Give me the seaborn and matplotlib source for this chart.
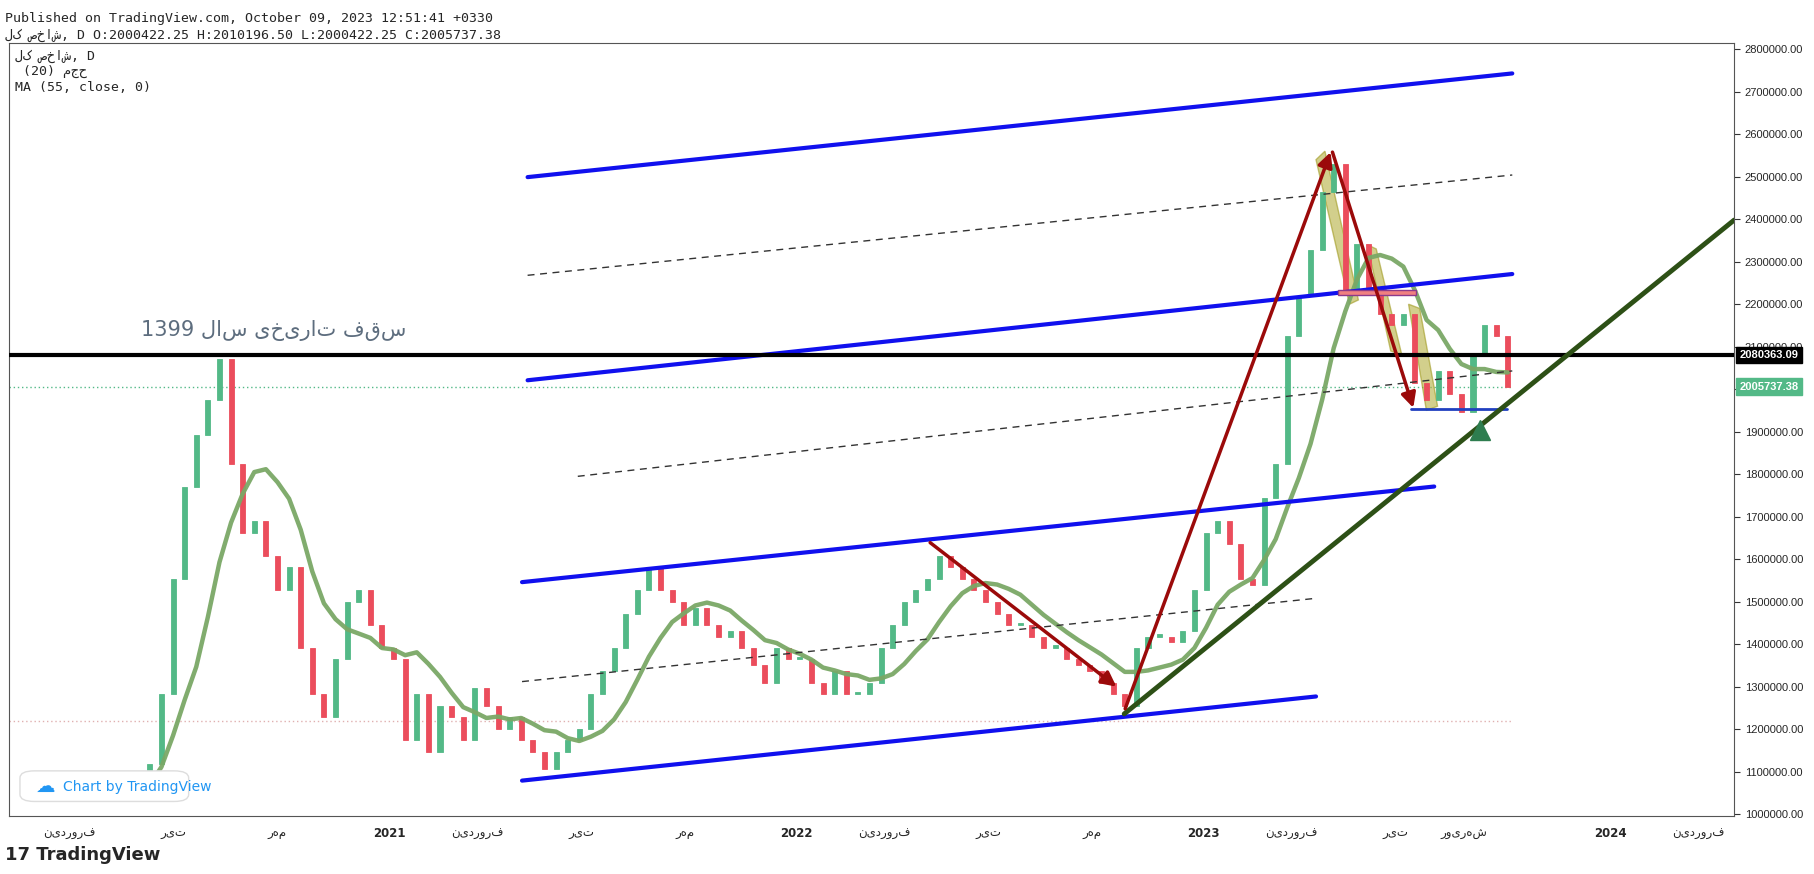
import seaborn as sns
import matplotlib.pyplot as plt
import matplotlib.dates as mdates
import pandas as pd
from matplotlib.patches import Polygon, FancyBboxPatch

# 1- data (closes in thousand points, ~10 day steps)
start_date = "2020-04-30"
end_date = "2023-10-01"
closes = [1038, 1038, 1079, 1119, 1282, 1554, 1771, 1893, 1975, 2070,
          1825, 1662, 1690, 1608, 1527, 1581, 1391, 1282, 1228, 1364,
          1500, 1527, 1445, 1391, 1364, 1174, 1282, 1147, 1255, 1228,
          1174, 1296, 1255, 1201, 1228, 1174, 1147, 1106, 1147, 1174,
          1201, 1282, 1337, 1391, 1472, 1527, 1581, 1527, 1500, 1445,
          1486, 1445, 1418, 1432, 1391, 1350, 1309, 1391, 1364, 1364,
          1309, 1282, 1337, 1282, 1282, 1309, 1391, 1445, 1500, 1527,
          1554, 1608, 1581, 1554, 1527, 1500, 1472, 1445, 1445, 1418,
          1391, 1391, 1364, 1350, 1337, 1309, 1282, 1255, 1391, 1418,
          1418, 1405, 1432, 1527, 1662, 1690, 1635, 1554, 1540, 1744,
          1825, 2124, 2219, 2328, 2463, 2531, 2233, 2341, 2233, 2178,
          2151, 2178, 2015, 1975, 2042, 1988, 1947, 2083, 2151, 2124,
          2005.737]
hist_high = 2080363.09
last_close = 2005737.38

# drawings (date, price)
blue_lines = [(("2021-05-05", 2499e3), ("2023-10-05", 2743e3)),
              (("2021-05-05", 2021e3), ("2023-10-05", 2271e3)),
              (("2021-04-30", 1546e3), ("2023-07-27", 1771e3)),
              (("2021-04-30", 1079e3), ("2023-04-12", 1277e3))]
dashed_lines = [(("2021-05-05", 2268e3), ("2023-10-05", 2504e3)),
                (("2021-06-19", 1795e3), ("2023-10-05", 2043e3)),
                (("2021-04-30", 1312e3), ("2023-04-12", 1508e3))]
green_trend = (("2022-10-22", 1236e3), ("2024-04-21", 2398e3))
red_arrows = [(("2022-10-22", 1242e3), ("2023-04-26", 2564e3)),
              (("2023-04-26", 2564e3), ("2023-07-09", 1950e3)),
              (("2022-04-29", 1643e3), ("2022-10-17", 1296e3))]
x_ticks = ["2020-03-20", "2020-06-21", "2020-09-22", "2021-01-01", "2021-03-21",
           "2021-06-22", "2021-09-23", "2022-01-01", "2022-03-21", "2022-06-22",
           "2022-09-23", "2023-01-01", "2023-03-21", "2023-06-22", "2023-08-23",
           "2024-01-01", "2024-03-20"]
x_labels = ["فروردین", "تیر", "مهر", "2021", "فروردین", "تیر", "مهر", "2022",
            "فروردین", "تیر", "مهر", "2023", "فروردین", "تیر", "شهریور", "2024", "فروردین"]
note_text = "سقف تاریخی سال 1399"


def visual(s):
    # matplotlib draws left to right without bidi, so order the words by hand
    return " ".join(w if w.isdigit() else w[::-1] for w in reversed(s.split()))


df = pd.DataFrame({"date": pd.date_range(start_date, end_date, periods=len(closes)),
                   "close": [c * 1000 for c in closes]})
df["open"] = df["close"].shift(1).fillna(df["close"])
df["ma"] = df.set_index("date")["close"].rolling("77D").mean().values
df["up"] = df["close"] >= df["open"]

# 2- figure
sns.set_style("white")
plt.rcParams['font.family'] = ['DejaVu Sans']
fig = plt.figure(figsize=(18.14, 8.74), dpi=100)
ax = fig.add_axes([0.005, 0.066, 0.951, 0.885])

up_c, dn_c = "#53b987", "#eb4d5c"
for _, r in df.iterrows():
    c = up_c if r["up"] else dn_c
    h = r["close"] - r["open"]
    ax.bar(r["date"], h if abs(h) > 3000 else 6000, bottom=r["open"], width=4.5,
           color=c, edgecolor=c, linewidth=0.6, zorder=3)

sns.lineplot(x="date", y="ma", data=df, ax=ax, color="#7aa866", lw=3.2, alpha=0.95, zorder=4)

def seg(p):
    return [pd.Timestamp(p[0][0]), pd.Timestamp(p[1][0])], [p[0][1], p[1][1]]

for p in blue_lines:
    xs, ys = seg(p)
    ax.plot(xs, ys, color="#1010ee", lw=3, zorder=5)
for p in dashed_lines:
    xs, ys = seg(p)
    ax.plot(xs, ys, color="#333333", lw=1, ls=(0, (5, 4)), zorder=5)
xs, ys = seg(green_trend)
ax.plot(xs, ys, color="#2d5016", lw=3.5, zorder=6)
for p in red_arrows:
    ax.annotate("", xy=(pd.Timestamp(p[1][0]), p[1][1]), xytext=(pd.Timestamp(p[0][0]), p[0][1]),
                arrowprops=dict(arrowstyle="-|>", color="#9b0a0a", lw=2.5, mutation_scale=22), zorder=6)

# olive highlight shapes
for pts in [[("2023-04-12", 2540e3), ("2023-04-20", 2560e3), ("2023-05-20", 2210e3), ("2023-05-12", 2200e3)],
            [("2023-05-28", 2340e3), ("2023-06-05", 2330e3), ("2023-06-28", 2080e3), ("2023-06-18", 2090e3)],
            [("2023-07-04", 2200e3), ("2023-07-14", 2190e3), ("2023-07-30", 1960e3), ("2023-07-20", 1950e3)]]:
    ax.add_patch(Polygon([(mdates.date2num(pd.Timestamp(d)), v) for d, v in pts], closed=True,
                         fc="#b5b040", ec="#a09a20", alpha=0.6, zorder=2))
ax.add_patch(plt.Rectangle((mdates.date2num(pd.Timestamp("2023-05-02")), 2222e3), 70, 12e3,
                           fc="#f08080", ec="#8b3a8b", lw=1, zorder=5))
ax.plot([pd.Timestamp("2023-07-06"), pd.Timestamp("2023-09-30")], [1953e3, 1953e3], color="#2040c0", lw=2, zorder=5)
ax.plot([pd.Timestamp("2023-09-06")], [1905e3], marker="^", ms=14, color="#2e7d4f", zorder=7)

ax.axhline(hist_high, color="black", lw=3, zorder=5)
ax.plot([pd.Timestamp("2020-01-26"), pd.Timestamp("2023-10-05")], [last_close] * 2,
        color="#53b987", lw=1, ls=(0, (1, 2)), zorder=1)
ax.plot([pd.Timestamp("2020-01-26"), pd.Timestamp("2023-10-05")], [1220e3] * 2,
        color="#e0b0b0", lw=1, ls=(0, (1, 2)), zorder=1)

ax.text(pd.Timestamp("2020-05-23"), 2125e3, visual(note_text), fontsize=15, color="#5d6d7e")

# axes
ax.set_xlim(pd.Timestamp("2020-01-26"), pd.Timestamp("2024-04-21"))
ax.set_ylim(995e3, 2815e3)
ax.set_xticks([pd.Timestamp(t) for t in x_ticks])
ax.set_xticklabels([visual(l) for l in x_labels], fontsize=8.5)
for t in ax.get_xticklabels():
    if t.get_text().isdigit():
        t.set_fontweight("bold")
ax.yaxis.tick_right()
ax.set_yticks(range(1000000, 2800001, 100000))
ax.set_yticklabels([f"{v:.2f}" for v in range(1000000, 2800001, 100000)], fontsize=8,
                   family=["Liberation Sans Narrow", "Liberation Sans", "DejaVu Sans"])
ax.tick_params(length=4, color="#333333")
ax.set_xlabel("")
ax.set_ylabel("")
for s in ax.spines.values():
    s.set_color("#555555")

for val, fc, txt in [(hist_high, "black", "2080363.09"), (last_close, "#53b987", "2005737.38")]:
    ax.text(1.003, val, txt, transform=ax.get_yaxis_transform(), fontsize=8, fontweight="bold",
            family=["Liberation Sans Narrow", "Liberation Sans", "DejaVu Sans"],
            color="white", va="center", bbox=dict(boxstyle="square,pad=0.3", fc=fc, ec=fc))

# header and badges
fig.text(0.003, 0.975, "Published on TradingView.com, October 09, 2023 12:51:41 +0330",
         family="DejaVu Sans Mono", fontsize=9.5)
fig.text(0.003, 0.96, "شاخص کل"[::-1] + ", D O:2000422.25 H:2010196.50 L:2000422.25 C:2005737.38",
         family="DejaVu Sans Mono", fontsize=9.5, va="center")
fig.text(0.008, 0.936, "شاخص کل"[::-1] + ", D", family="DejaVu Sans Mono", fontsize=9.5, va="center")
fig.text(0.008, 0.918, " (20) " + "حجم"[::-1], family="DejaVu Sans Mono", fontsize=9.5, va="center")
fig.text(0.008, 0.9, "MA (55, close, 0)", family="DejaVu Sans Mono", fontsize=9.5, va="center")
fig.patches.append(FancyBboxPatch((0.011, 0.083), 0.093, 0.035, boxstyle="round,pad=0,rounding_size=0.008",
                                  transform=fig.transFigure, fc="white", ec="#dddddd"))
fig.text(0.02, 0.1, "☁", fontsize=14, color="#2196f3", va="center")
fig.text(0.035, 0.1, "Chart by TradingView", fontsize=10, color="#2196f3", va="center")
fig.text(0.003, 0.022, "17 TradingView", fontsize=13, fontweight="bold", va="center")

fig.savefig("out.png", dpi=100, facecolor="white")
